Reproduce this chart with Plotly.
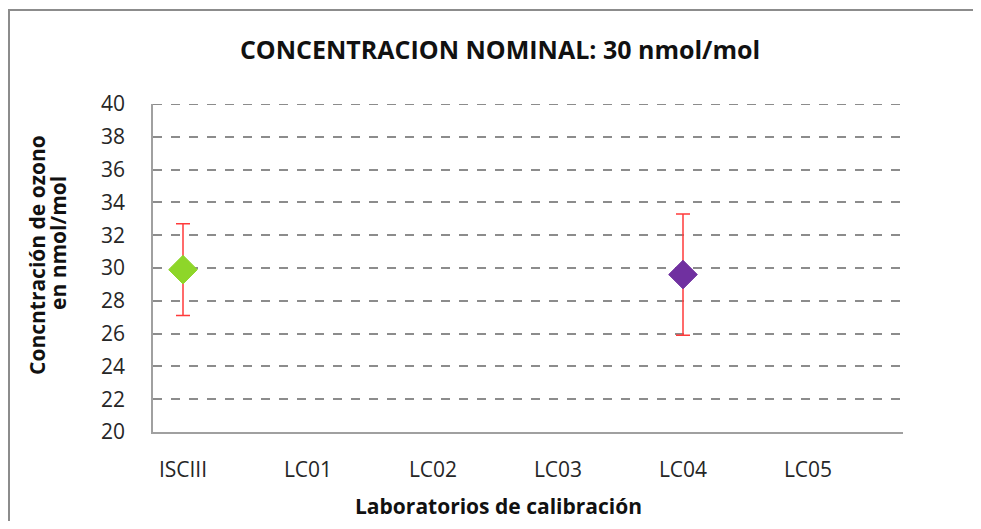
import plotly.graph_objects as go

categories = ["ISCIII", "LC01", "LC02", "LC03", "LC04", "LC05"]
lab_names = ["ISCIII", "LC04"]
lab_values = [29.9, 29.6]
lab_errors = [2.8, 3.7]
lab_colors = ["#8ED629", "#7030A0"]
y_ticks = [20, 22, 24, 26, 28, 30, 32, 34, 36, 38, 40]

W, H = 965, 513
PW, PH = 750, 328
ML, MT = 145, 96
MR, MB = W - ML - PW, H - MT - PH
OFF = 8  # page body margin


def px_x(sx):
    return (sx - OFF - ML) / PW


def px_y(sy):
    return (H - MB - (sy - OFF)) / PH


fig = go.Figure()
for name, val, err, col in zip(lab_names, lab_values, lab_errors, lab_colors):
    fig.add_trace(go.Scatter(
        x=[categories.index(name)], y=[val],
        mode="markers",
        marker=dict(symbol="diamond", size=22, color=col,
                    line=dict(width=1, color=col)),
        error_y=dict(type="data", array=[err], visible=True,
                     color="#FF3B3B", thickness=1.5, width=7),
        showlegend=False,
    ))

fx0, fy1, fx1 = px_x(9), px_y(10), px_x(980)
fig.update_layout(
    width=W, height=H,
    paper_bgcolor="white", plot_bgcolor="white",
    margin=dict(l=ML, r=MR, t=MT, b=MB, autoexpand=False),
    font=dict(family="Open Sans", color="#262626"),
    title=dict(text="<b>CONCENTRACION NOMINAL: 30 nmol/mol</b>",
               x=(500 - OFF) / W, xanchor="center", y=1 - 42 / H, yanchor="middle",
               font=dict(size=25, family="Open Sans", color="#111111")),
    shapes=[
        dict(type="path", xref="paper", yref="paper",
             path=f"M {fx0},{px_y(528)} L {fx0},{fy1} L {fx1},{fy1}",
             line=dict(color="#8C8C8C", width=2)),
        dict(type="line", xref="paper", yref="y", x0=0, x1=1, y0=y_ticks[-1], y1=y_ticks[-1],
             line=dict(color="#8C8C8C", width=1.8, dash="dash"), layer="below"),
    ],
    annotations=[
        dict(text="<b>Concntración de ozono</b>", xref="paper", yref="paper",
             x=px_x(37), y=px_y(255), xanchor="center", yanchor="middle",
             textangle=-90, showarrow=False, font=dict(size=21, color="#111111")),
        dict(text="<b>en nmol/mol</b>", xref="paper", yref="paper",
             x=px_x(58), y=px_y(243), xanchor="center", yanchor="middle",
             textangle=-90, showarrow=False, font=dict(size=21, color="#111111")),
        dict(text="<b>Laboratorios de calibración</b>", xref="paper", yref="paper",
             x=px_x(498), y=px_y(506), xanchor="center", yanchor="middle",
             showarrow=False, font=dict(size=21, color="#111111")),
    ],
)
fig.update_xaxes(
    range=[-0.24, 5.76],
    tickmode="array", tickvals=list(range(len(categories))), ticktext=categories,
    tickfont=dict(size=21, color="#262626"),
    showgrid=False, zeroline=False,
    showline=True, linecolor="#A0A0A0", linewidth=1.5,
    ticks="", ticklabelstandoff=18,
)
fig.update_yaxes(
    range=[20, 40], tickvals=y_ticks,
    tickfont=dict(size=21, color="#262626"),
    showgrid=True, gridcolor="#8C8C8C", griddash="dash", gridwidth=1.8,
    zeroline=False, showline=True, linecolor="#A0A0A0", linewidth=1.5,
    ticks="", ticklabelstandoff=22,
)
fig.write_html("out.html")
